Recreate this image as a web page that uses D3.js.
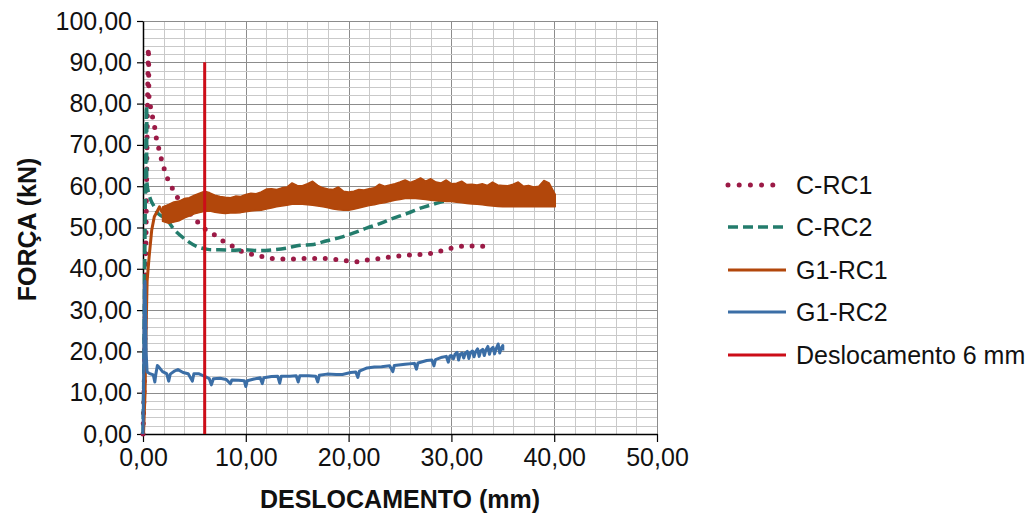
<!DOCTYPE html>
<html>
<head>
<meta charset="utf-8">
<script src="https://cdn.jsdelivr.net/npm/d3@7"></script>
<style>
  html, body { margin: 0; padding: 0; background: #ffffff; }
  svg { display: block; }
  text { font-family: "Liberation Sans", Arial, Helvetica, sans-serif; }
</style>
</head>
<body>
<svg id="chart" width="1034" height="518"></svg>
<script>
// ---- Data: force (kN) vs displacement (mm) ----
const xTicks = [0, 10, 20, 30, 40, 50];
const yTicks = [0, 10, 20, 30, 40, 50, 60, 70, 80, 90, 100];

const seriesNames = ["C-RC1", "C-RC2", "G1-RC1", "G1-RC2", "Deslocamento 6 mm"];
const seriesColors = ["#9b1a46", "#237c6c", "#b2470b", "#3b6ea6", "#cc0d18"];

// C-RC1
const cRc1X = [0, 0.12, 0.22, 0.3, 0.38, 0.45, 0.5, 0.52, 0.55, 0.56, 0.57, 0.62, 0.75, 0.94, 1.17, 1.33, 1.59, 1.9, 2.17, 2.56, 3.11, 3.6, 4.3, 5.09, 5.8, 6.7, 7.6, 8.5, 9.4, 10.4, 11.4, 12.5, 13.6, 14.6, 15.7, 16.7, 17.8, 18.9, 19.9, 21.0, 22.0, 23.1, 24.1, 25.2, 26.3, 27.3, 28.4, 29.4, 30.5, 31.6, 32.6, 33.7];
const cRc1Y = [0, 12, 30, 50, 68, 82, 90, 93.5, 90, 86, 83, 80.5, 79, 76.6, 73.8, 71.2, 68.6, 65.5, 63.4, 60.8, 58.4, 56.2, 54, 52, 50, 48.7, 47, 45.8, 44.4, 43.6, 43.1, 42.5, 42.4, 42.4, 42.5, 42.5, 42.5, 42.2, 41.9, 41.7, 42.2, 42.5, 42.9, 43.2, 43.4, 43.5, 43.9, 44.6, 45.3, 45.5, 45.5, 45.4];

// C-RC2
const cRc2X = [0, 0.08, 0.15, 0.22, 0.28, 0.32, 0.35, 0.37, 0.36, 0.36, 0.38, 0.5, 0.78, 1.1, 1.43, 1.8, 2.24, 2.7, 3.14, 4.18, 5.16, 6.29, 7.4, 8.7, 10, 11.3, 12.6, 13.9, 15.3, 16.6, 17.9, 19.2, 20.5, 21.8, 23.1, 24.3, 25.7, 26.9, 28.2, 29.5, 30.5];
const cRc2Y = [0, 15, 35, 55, 70, 78, 79.5, 76, 70, 65, 61, 58.8, 56.5, 55, 53.5, 52.8, 52.3, 50.6, 49.2, 47, 45.5, 44.7, 44.6, 44.5, 44.6, 44.4, 44.6, 45, 45.7, 45.9, 46.8, 47.6, 48.7, 49.9, 51, 52.2, 53.4, 54.6, 55.6, 56.5, 57.2];

// G1-RC1: loading branch, then the densely oscillating plateau given as lower/upper envelope
const g1Rc1X = [0.05, 0.2, 0.3, 0.4, 0.6, 0.85, 1.1, 1.4, 1.6, 1.9];
const g1Rc1Y = [0, 10, 25, 37, 43, 49.4, 52.6, 54, 55, 53.5];
const g1Rc1BandX = [1.9, 2.5, 3, 3.5, 4, 4.5, 5, 5.5, 6, 6.5, 7, 7.5, 8, 8.5, 9, 9.5, 10, 10.5, 11, 11.5, 12, 12.5, 13, 13.5, 14, 14.5, 15, 15.5, 16, 16.5, 17, 17.5, 18, 18.5, 19, 19.5, 20, 20.5, 21, 21.5, 22, 22.5, 23, 23.5, 24, 24.5, 25, 25.5, 26, 26.5, 27, 27.5, 28, 28.5, 29, 29.5, 30, 30.5, 31, 31.5, 32, 32.5, 33, 33.5, 34, 34.5, 35, 35.5, 36, 36.5, 37, 37.5, 38, 38.5, 39, 39.5, 40.1];
const g1Rc1Low = [51.5, 51, 51.3, 51.6, 52.3, 52.8, 53.3, 53.6, 53.9, 54, 53.7, 53.5, 53.4, 53.5, 53.5, 53.6, 53.8, 54, 54.1, 54.2, 54.5, 54.7, 55, 55.2, 55.4, 55.6, 55.7, 55.6, 55.5, 55.4, 55.2, 55, 54.8, 54.5, 54.3, 54.2, 54.2, 54.4, 54.7, 55, 55.3, 55.5, 55.8, 56, 56.3, 56.6, 56.8, 57, 57, 57, 56.9, 56.8, 56.6, 56.5, 56.4, 56.3, 56.3, 56.1, 56, 55.8, 55.7, 55.6, 55.5, 55.3, 55.2, 55.1, 55, 55, 55.1, 55, 55, 55.1, 55, 55, 55, 55.1, 55];
const g1Rc1High = [55, 55.6, 56.2, 56.4, 57, 57.2, 57.8, 58.3, 58.8, 58.4, 57.8, 57.5, 57.3, 57.2, 57.6, 57.5, 58, 58.3, 58.2, 58.6, 59.3, 59.4, 59.2, 59.6, 59.8, 60.8, 60.2, 60.1, 60.6, 61.2, 60.2, 59.6, 59.3, 59.2, 59.8, 58.8, 58.6, 58.8, 59.2, 59.1, 59.4, 59.6, 60.5, 60, 60.3, 60.6, 61, 61.5, 60.9, 61.4, 62, 61.2, 61.8, 61, 60.8, 61.5, 60.6, 60.7, 61.2, 60.4, 60.5, 60.3, 60.6, 60.2, 61, 60.3, 60.2, 60.1, 60.5, 61, 60, 60.2, 59.8, 60, 61.4, 60.8, 58];

// G1-RC2
const g1Rc2X = [0, 0.05, 0.1, 0.15, 0.2, 0.25, 0.3, 0.4, 0.6, 1.0, 1.15, 1.25, 1.4, 1.55, 1.9, 2.3, 2.5, 2.65, 3.1, 3.4, 3.9, 4.4, 4.8, 4.95, 5.4, 5.95, 6.45, 6.65, 6.85, 7.5, 8.1, 8.5, 8.65, 9.3, 9.85, 10.0, 10.15, 10.8, 11.4, 11.6, 11.75, 12.5, 13.1, 13.3, 13.45, 14.3, 14.9, 15.1, 15.25, 16.1, 16.8, 17.0, 17.15, 17.9, 18.8, 19.4, 20.2, 20.7, 20.9, 21.05, 21.8, 22.5, 23.2, 24.0, 24.3, 24.45, 25.5, 26.4, 26.6, 26.75, 27.6, 28.1, 28.3, 28.45, 29.1, 29.5, 29.7, 29.85,
  30.0, 30.2, 30.35, 30.55, 30.7, 30.85, 31.05, 31.2, 31.35, 31.55, 31.7, 31.85, 32.05, 32.2, 32.35, 32.55, 32.7, 32.85, 33.05, 33.2, 33.35, 33.55, 33.7, 33.85, 34.05, 34.2, 34.35, 34.55, 34.7, 34.85, 35.0, 35.0];
const g1Rc2Y = [0, 10, 25, 36, 37, 30, 20, 15, 14.7, 14.3, 12.6, 14.5, 16.6, 16.2, 15.1, 14.6, 12.8, 14.5, 15.3, 15.6, 14.9, 14.6, 12.8, 14.6, 14.6, 14, 13.4, 11.9, 13.4, 13.5, 13.2, 12.2, 13.1, 13, 12.9, 11.5, 12.9, 13.3, 13.6, 12.2, 13.6, 13.9, 14, 12.3, 14, 14, 14.1, 12.6, 14.1, 14.1, 14, 12.6, 14.2, 14.5, 14.4, 14.4, 14.9, 15, 13.7, 15.2, 16, 16.2, 16.3, 16.5, 15.1, 16.6, 16.9, 17.1, 15.7, 17.2, 17.8, 17.9, 16.5, 18, 18.6, 18.8, 17.4, 18.9,
  19.0, 18.2, 19.3, 19.8, 17.9, 19.3, 19.6, 18.4, 19.6, 20.0, 18.3, 19.7, 20.1, 18.7, 19.9, 20.6, 18.8, 20.1, 20.5, 19.0, 20.3, 21.2, 19.3, 20.5, 21.0, 19.4, 20.6, 21.8, 19.6, 20.8, 21.4, 20.2];

// Reference line at 6 mm
const refX = [6, 6];
const refY = [0, 90];

// ---- Layout ----
const svg = d3.select("#chart");
const plot = { left: 143, right: 657, top: 21, bottom: 434 };

const x = d3.scaleLinear().domain([0, 50]).range([plot.left, plot.right]);
const y = d3.scaleLinear().domain([0, 100]).range([plot.bottom, plot.top]);

const locale = d3.formatLocale({ decimal: ",", thousands: ".", grouping: [3], currency: ["", ""] });
const fmt = locale.format(".2f");

// Gridlines: minor every 2 units, major every 10
const gGrid = svg.append("g");
d3.range(0, 50.001, 2).forEach(v => {
  const major = Math.abs(v % 10) < 1e-9;
  gGrid.append("line")
    .attr("x1", Math.round(x(v)) + 0.5).attr("x2", Math.round(x(v)) + 0.5)
    .attr("y1", plot.top).attr("y2", plot.bottom)
    .attr("stroke", major ? "#8c8c8c" : "#c9c9c9").attr("stroke-width", 1);
});
d3.range(0, 100.001, 2).forEach(v => {
  const major = Math.abs(v % 10) < 1e-9;
  gGrid.append("line")
    .attr("x1", plot.left).attr("x2", plot.right)
    .attr("y1", Math.round(y(v)) + 0.5).attr("y2", Math.round(y(v)) + 0.5)
    .attr("stroke", major ? "#8c8c8c" : "#c9c9c9").attr("stroke-width", 1);
});

// Axes
const xAxis = d3.axisBottom(x).tickValues(xTicks).tickFormat(fmt).tickSizeInner(8).tickSizeOuter(0).tickPadding(6);
const yAxis = d3.axisLeft(y).tickValues(yTicks).tickFormat(fmt).tickSizeInner(6).tickSizeOuter(0).tickPadding(5);

const gx = svg.append("g").attr("transform", `translate(0,${plot.bottom})`).call(xAxis);
const gy = svg.append("g").attr("transform", `translate(${plot.left},0)`).call(yAxis);
[gx, gy].forEach(g => {
  g.select(".domain").attr("stroke", "#000").attr("stroke-width", 1.5);
  g.selectAll(".tick line").attr("stroke", "#000").attr("stroke-width", 1.2);
  g.selectAll(".tick text")
    .attr("fill", "#111")
    .style("font-size", "25px")
    .style("font-family", "'Liberation Sans', Arial, sans-serif");
});

// Axis titles
svg.append("text")
  .attr("x", (plot.left + plot.right) / 2).attr("y", 508)
  .attr("text-anchor", "middle")
  .style("font-size", "25px").style("font-weight", "bold")
  .attr("fill", "#111")
  .text("DESLOCAMENTO (mm)");
svg.append("text")
  .attr("transform", `translate(36,${(plot.top + plot.bottom) / 2 + 2}) rotate(-90)`)
  .attr("text-anchor", "middle")
  .style("font-size", "25px").style("font-weight", "bold")
  .attr("fill", "#111")
  .text("FORÇA (kN)");

// ---- Series ----
const zip = (xs, ys) => xs.map((d, i) => [d, ys[i]]);
const smooth = d3.line().x(d => x(d[0])).y(d => y(d[1])).curve(d3.curveCatmullRom.alpha(0.5));
const straight = d3.line().x(d => x(d[0])).y(d => y(d[1]));
const gSeries = svg.append("g");

// C-RC1 (dotted)
gSeries.append("path")
  .attr("d", smooth(zip(cRc1X, cRc1Y)))
  .attr("fill", "none").attr("stroke", seriesColors[0])
  .attr("stroke-width", 5).attr("stroke-linecap", "round")
  .attr("stroke-dasharray", "0 10.6");

// C-RC2 (dashed)
gSeries.append("path")
  .attr("d", smooth(zip(cRc2X, cRc2Y)))
  .attr("fill", "none").attr("stroke", seriesColors[1])
  .attr("stroke-width", 3.5).attr("stroke-dasharray", "10 5");

// G1-RC1
gSeries.append("path")
  .attr("d", straight(zip(g1Rc1X, g1Rc1Y)))
  .attr("fill", "none").attr("stroke", seriesColors[2])
  .attr("stroke-width", 3).attr("stroke-linejoin", "round");
const band = d3.area()
  .x((d, i) => x(g1Rc1BandX[i]))
  .y0((d, i) => y(g1Rc1Low[i]))
  .y1((d, i) => y(g1Rc1High[i]));
gSeries.append("path")
  .attr("d", band(g1Rc1BandX))
  .attr("fill", seriesColors[2]).attr("stroke", seriesColors[2])
  .attr("stroke-width", 1.5).attr("stroke-linejoin", "round");

// G1-RC2
gSeries.append("path")
  .attr("d", straight(zip(g1Rc2X, g1Rc2Y)))
  .attr("fill", "none").attr("stroke", seriesColors[3])
  .attr("stroke-width", 3).attr("stroke-linejoin", "round");

// Displacement marker at 6 mm
gSeries.append("path")
  .attr("d", straight(zip(refX, refY)))
  .attr("fill", "none").attr("stroke", seriesColors[4])
  .attr("stroke-width", 3);

// ---- Legend ----
const legendY = [185, 227, 270, 312, 355];
const gLeg = svg.append("g");
seriesNames.forEach((name, i) => {
  const ln = gLeg.append("line")
    .attr("x1", 728).attr("x2", 786)
    .attr("y1", legendY[i]).attr("y2", legendY[i])
    .attr("stroke", seriesColors[i]);
  if (i === 0) {
    ln.attr("x1", 728).attr("x2", 784).attr("stroke-width", 5).attr("stroke-linecap", "round").attr("stroke-dasharray", "0 11.2");
  } else if (i === 1) {
    ln.attr("stroke-width", 3.5).attr("stroke-dasharray", "10 5");
  } else {
    ln.attr("stroke-width", 3);
  }
  gLeg.append("text")
    .attr("x", 796).attr("y", legendY[i])
    .attr("dy", "0.35em")
    .style("font-size", "25px")
    .attr("fill", "#111")
    .text(name);
});
</script>
</body>
</html>
